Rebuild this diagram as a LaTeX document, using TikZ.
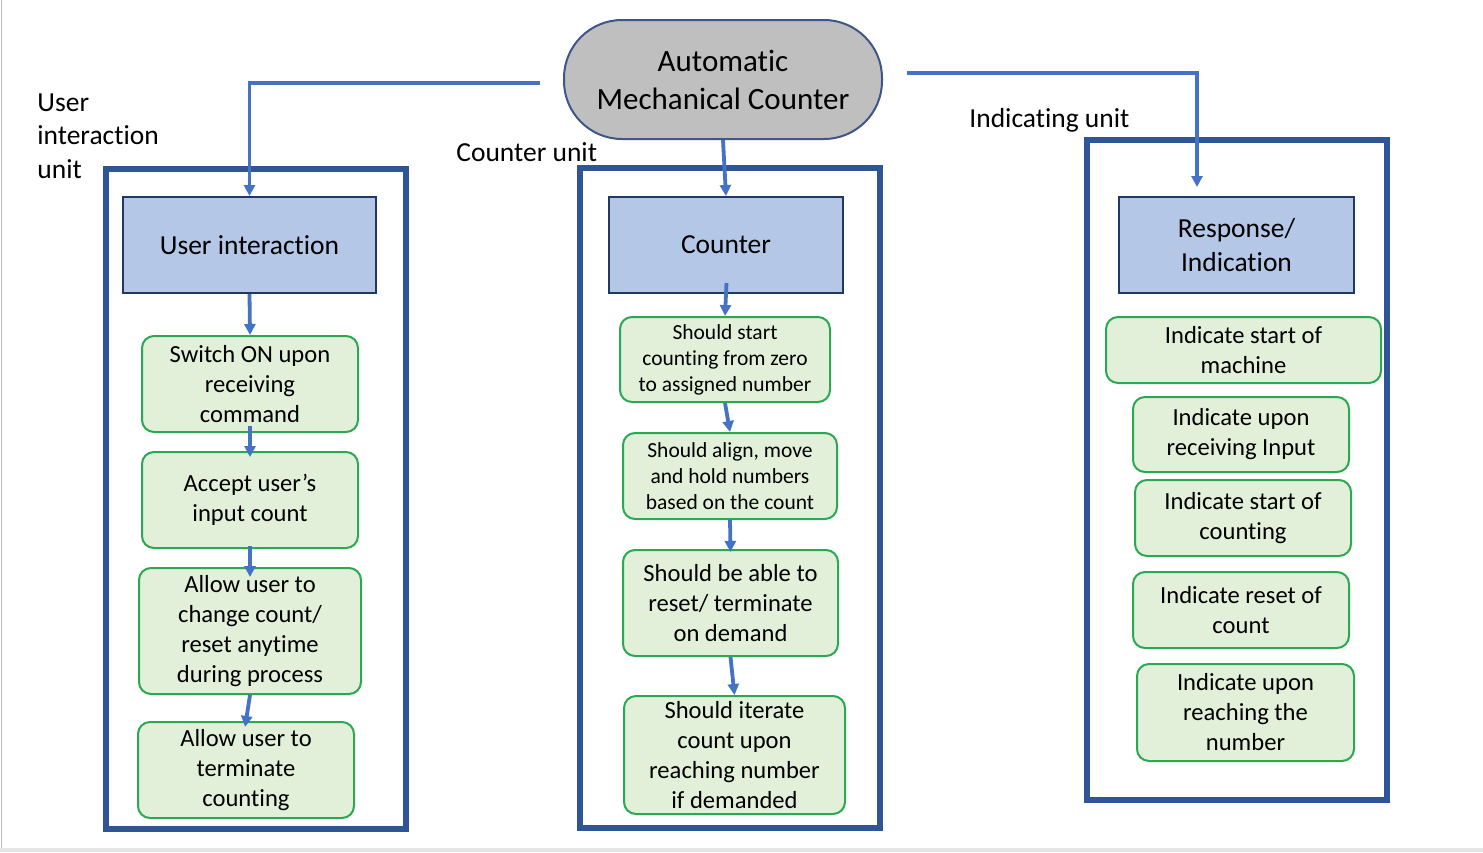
\documentclass[tikz,border=0pt]{standalone}
\usepackage{fontspec}
\setmainfont{Carlito}[Ligatures=NoCommon]
\usetikzlibrary{arrows.meta,positioning}
\definecolor{linkblue}{HTML}{4472C4}
\definecolor{framebl}{HTML}{2F5597}
\definecolor{headfill}{HTML}{B4C7E7}
\definecolor{headdraw}{HTML}{1F3864}
\definecolor{reqfill}{HTML}{E2F0D9}
\definecolor{reqdraw}{HTML}{2AA852}
\definecolor{ovalfill}{HTML}{BFBFBF}
\definecolor{ovaldraw}{HTML}{3F5689}

\begin{document}
\begin{tikzpicture}[
    x=0.5pt, y=-0.5pt, >={Triangle[width=5.5pt,length=5.5pt]},
    mainbox/.style  ={draw=ovaldraw, fill=ovalfill, line width=1pt, rounded corners=29pt, align=center, inner sep=0pt, font=\fontsize{15.5}{19}\selectfont},
    headbox/.style  ={draw=headdraw, fill=headfill, line width=1pt, align=center, inner sep=0pt, minimum height=48pt, font=\fontsize{13.75}{17}\selectfont},
    reqbox/.style   ={draw=reqdraw, fill=reqfill, line width=1pt, rounded corners=6pt, align=center, inner sep=0pt, font=\fontsize{12.3}{15}\selectfont},
    reqsmall/.style ={reqbox, font=\fontsize{10.75}{13}\selectfont},
    unitframe/.style={draw=framebl, line width=3pt},
    unitlab/.style  ={align=left, inner sep=0pt, anchor=west, font=\fontsize{13.75}{16.75}\selectfont},
    link/.style     ={->, draw=linkblue, line width=1.9pt}
]
\useasboundingbox (0,0) rectangle (1483,852);
\fill[black!10] (0,848) rectangle (1483,852);
\draw[black!25, line width=0.5pt] (1,0) -- (1,848);

% top block
\node[mainbox, minimum width=159pt, minimum height=59.5pt] (amc) at (723,79.5) {Automatic\\Mechanical Counter};

% unit labels
\node[unitlab] (uilab) at (37,136) {User\\interaction\\unit};
\node[unitlab] (ctlab) at (456,152) {Counter unit};
\node[unitlab] (inlab) at (969,120) {Indicating unit};

% unit frames
\draw[unitframe] (106,169) rectangle (406,829);
\draw[unitframe] (580,168) rectangle (880,828);
\draw[unitframe] (1087,140) rectangle (1387,800);

% user interaction unit
\node[headbox, minimum width=126.5pt] (uib) at (249.5,245) {User interaction};
\node[reqbox, minimum width=108pt, minimum height=48pt] (l1) at (250,384) {Switch ON upon\\receiving\\command};
\node[reqbox, minimum width=108pt, minimum height=48pt] (l2) at (250,500) {Accept user’s\\input count};
\node[reqbox, minimum width=111pt, minimum height=63pt] (l3) at (250,631) {Allow user to\\change count/\\reset anytime\\during process};
\node[reqbox, minimum width=108pt, minimum height=48pt] (l4) at (246,770) {Allow user to\\terminate\\counting};

% counter unit
\node[headbox, minimum width=117pt] (ctr) at (726,245) {Counter};
\node[reqsmall, minimum width=105pt, minimum height=42.5pt] (c1) at (725,359.5) {Should start\\counting from zero\\to assigned number};
\node[reqsmall, minimum width=107pt, minimum height=43pt] (c2) at (730,476) {Should align, move\\and hold numbers\\based on the count};
\node[reqbox, minimum width=107.5pt, minimum height=53pt] (c3) at (730.5,603) {Should be able to\\reset/ terminate\\on demand};
\node[reqbox, minimum width=110.5pt, minimum height=59pt] (c4) at (734.5,755) {Should iterate\\count upon\\reaching number\\if demanded};

% indicating unit
\node[headbox, minimum width=117.5pt] (rsp) at (1236.5,245) {Response/\\Indication};
\node[reqbox, minimum width=137.5pt, minimum height=33pt] (r1) at (1243.5,350) {Indicate start of\\machine};
\node[reqbox, minimum width=108pt, minimum height=37.5pt] (r2) at (1241,434.5) {Indicate upon\\receiving Input};
\node[reqbox, minimum width=108pt, minimum height=38pt] (r3) at (1243,518) {Indicate start of\\counting};
\node[reqbox, minimum width=108pt, minimum height=38pt] (r4) at (1241,610) {Indicate reset of\\count};
\node[reqbox, minimum width=108.5pt, minimum height=48.5pt] (r5) at (1245.5,712.5) {Indicate upon\\reaching the\\number};

% links from the top block
\coordinate (lstart) at (540,83);
\coordinate (rstart) at (907,73);
\coordinate (rend) at (1197,187);
\draw[link] (lstart) -| (uib.north);
\draw[link] (amc.south) -- (ctr.north);
\draw[link] (rstart) -| (rend);

% chains inside the units
\draw[link] (uib.south) -- (l1.north);
\draw[link, shorten <=-3.5pt, shorten >=-3pt] (l1.south) -- (l2.north);
\draw[link, shorten <=-1.5pt, shorten >=-5pt] (l2.south) -- (l3.north);
\draw[link, shorten >=-3pt] (l3.south) -- (l4.north);
\draw[link, shorten <=-5.5pt] (ctr.south) -- (c1.north);
\draw[link] (c1.south) -- (c2.north);
\draw[link, shorten >=-1.5pt] (c2.south) -- (c3.north);
\draw[link] (c3.south) -- (c4.north);
\end{tikzpicture}
\end{document}
